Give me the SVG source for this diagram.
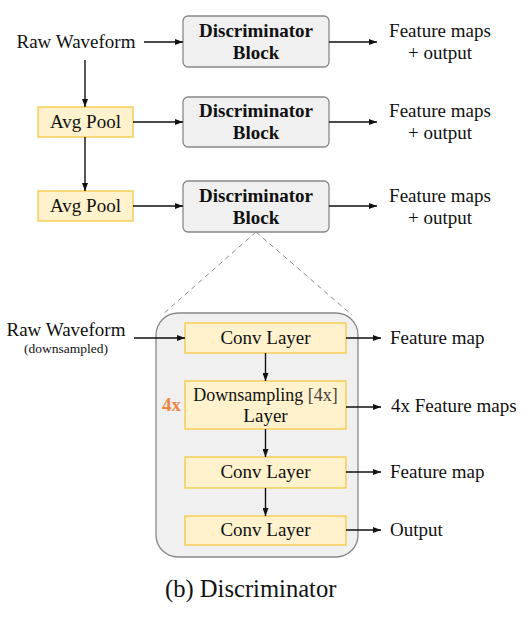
<svg xmlns="http://www.w3.org/2000/svg" width="532" height="621" viewBox="0 0 532 621">
<defs>
<marker id="ah" markerWidth="8" markerHeight="6" refX="8" refY="3" orient="auto" markerUnits="userSpaceOnUse">
<path d="M0,0 L8,3 L0,6 z" fill="#111"/>
</marker>
<style>
.t{font-size:19px;fill:#111;}
.c{text-anchor:middle;}
.b{font-weight:bold;}
.blk{fill:#f0f0f0;stroke:#888;stroke-width:1.3;}
.yel{fill:#fff2cc;stroke:#f5c842;stroke-width:1.3;}
.con{fill:#f0f0f0;stroke:#888;stroke-width:1.3;}
.ar{stroke:#111;stroke-width:1.4;fill:none;marker-end:url(#ah);}
.dash{stroke:#888;stroke-width:1;stroke-dasharray:5,4;fill:none;}
</style>
</defs>
<rect width="532" height="621" fill="#fff"/>
<g font-family="Liberation Serif">

<g id="raw-waveform"><text class="t c" font-family="Liberation Serif" x="76" y="48">Raw Waveform</text></g>

<g id="block1"><rect class="blk" x="183" y="16" width="146" height="51" rx="5"/>
<text class="t c b" font-family="Liberation Serif" x="256" y="37">Discriminator</text>
<text class="t c b" font-family="Liberation Serif" x="256" y="59">Block</text></g>
<g id="block2"><rect class="blk" x="183" y="97" width="146" height="50" rx="5"/>
<text class="t c b" font-family="Liberation Serif" x="256" y="117">Discriminator</text>
<text class="t c b" font-family="Liberation Serif" x="256" y="139">Block</text></g>
<g id="block3"><rect class="blk" x="183" y="181" width="146" height="51" rx="5"/>
<text class="t c b" font-family="Liberation Serif" x="256" y="202">Discriminator</text>
<text class="t c b" font-family="Liberation Serif" x="256" y="224">Block</text></g>

<g id="avgpool1"><rect class="yel" x="38" y="107" width="95" height="30"/>
<text class="t c" font-family="Liberation Serif" x="85.5" y="128">Avg Pool</text></g>
<g id="avgpool2"><rect class="yel" x="38" y="191" width="95" height="30"/>
<text class="t c" font-family="Liberation Serif" x="85.5" y="212">Avg Pool</text></g>

<g id="out1"><text class="t c" font-family="Liberation Serif" x="440" y="37">Feature maps</text>
<text class="t c" font-family="Liberation Serif" x="440" y="59">+ output</text></g>
<g id="out2"><text class="t c" font-family="Liberation Serif" x="440" y="117">Feature maps</text>
<text class="t c" font-family="Liberation Serif" x="440" y="139">+ output</text></g>
<g id="out3"><text class="t c" font-family="Liberation Serif" x="440" y="202">Feature maps</text>
<text class="t c" font-family="Liberation Serif" x="440" y="224">+ output</text></g>

<g id="container"><rect class="con" x="156" y="313" width="202" height="244" rx="22"/></g>

<g id="raw-downsampled"><text class="t c" font-family="Liberation Serif" x="66" y="336">Raw Waveform</text>
<text class="t c" font-family="Liberation Serif" x="66" y="353" style="font-size:13.5px">(downsampled)</text></g>

<g id="conv1"><rect class="yel" x="185" y="323" width="161" height="30"/>
<text class="t c" font-family="Liberation Serif" x="265.5" y="344">Conv Layer</text></g>
<g id="downsampling"><rect class="yel" x="185" y="381" width="161" height="48"/>
<text class="t c" font-family="Liberation Serif" x="265.5" y="401" style="font-size:18px">Downsampling <tspan fill="#444">[4x]</tspan></text>
<text class="t c" font-family="Liberation Serif" x="265.5" y="422">Layer</text></g>
<g id="repeat-label"><text class="t b" font-family="Liberation Serif" x="162" y="411" style="fill:#ee8640">4x</text></g>
<g id="conv2"><rect class="yel" x="185" y="457" width="161" height="31"/>
<text class="t c" font-family="Liberation Serif" x="265.5" y="478">Conv Layer</text></g>
<g id="conv3"><rect class="yel" x="185" y="516" width="161" height="29"/>
<text class="t c" font-family="Liberation Serif" x="265.5" y="536">Conv Layer</text></g>

<g id="lbl-fm1"><text class="t" font-family="Liberation Serif" x="390" y="344">Feature map</text></g>
<g id="lbl-fm4x"><text class="t" font-family="Liberation Serif" x="391" y="412">4x Feature maps</text></g>
<g id="lbl-fm2"><text class="t" font-family="Liberation Serif" x="390" y="478">Feature map</text></g>
<g id="lbl-out"><text class="t" font-family="Liberation Serif" x="390" y="536">Output</text></g>

<g id="connectors">
<line class="ar" x1="144" y1="42" x2="183" y2="42"/>
<line class="ar" x1="85" y1="60" x2="85" y2="107"/>
<line class="ar" x1="133" y1="122" x2="183" y2="122"/>
<line class="ar" x1="85" y1="137" x2="85" y2="191"/>
<line class="ar" x1="133" y1="206" x2="183" y2="206"/>
<line class="ar" x1="329" y1="42" x2="377" y2="42"/>
<line class="ar" x1="329" y1="122" x2="377" y2="122"/>
<line class="ar" x1="329" y1="206" x2="377" y2="206"/>
<line class="dash" x1="256" y1="232" x2="162" y2="315"/>
<line class="dash" x1="256" y1="232" x2="352" y2="315"/>
<line class="ar" x1="134" y1="338" x2="185" y2="338"/>
<line class="ar" x1="265.5" y1="353" x2="265.5" y2="381"/>
<line class="ar" x1="265.5" y1="429" x2="265.5" y2="457"/>
<line class="ar" x1="265.5" y1="488" x2="265.5" y2="516"/>
<line class="ar" x1="346" y1="338" x2="381" y2="338"/>
<line class="ar" x1="346" y1="407" x2="381" y2="407"/>
<line class="ar" x1="346" y1="472" x2="381" y2="472"/>
<line class="ar" x1="346" y1="530" x2="381" y2="530"/>
</g>

<g id="caption"><text class="t" font-family="Liberation Serif" x="165" y="597" style="font-size:24.6px">(b) Discriminator</text></g>
</g>
</svg>
